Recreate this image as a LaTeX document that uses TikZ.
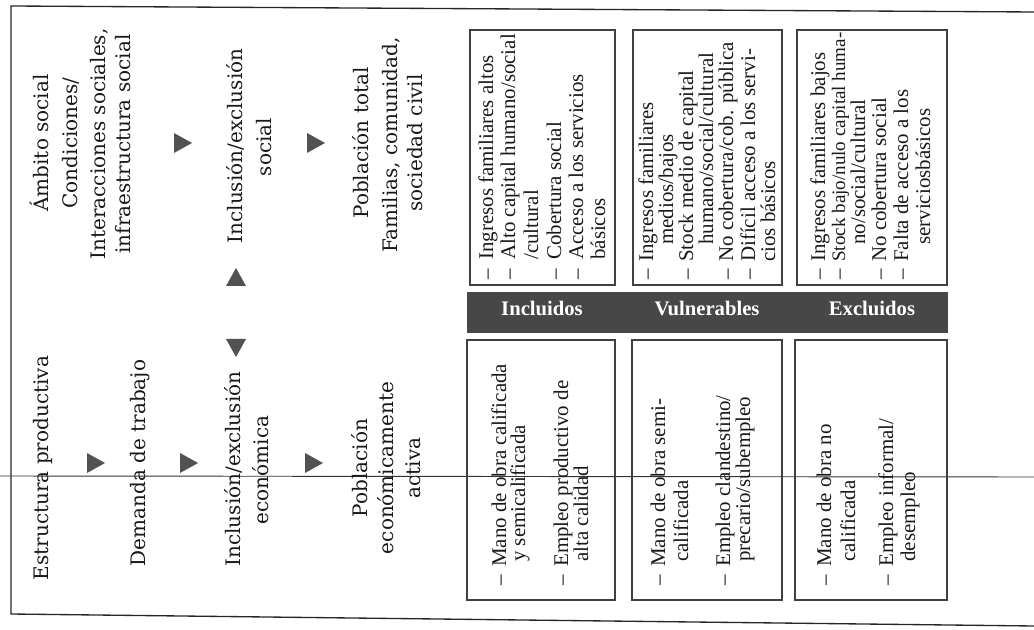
\documentclass[tikz,border=0pt]{standalone}
\usepackage{fontspec}
\setmainfont{Liberation Serif}
\newfontfamily\dvs{DejaVu Serif}
\begin{document}
\begin{tikzpicture}[x=0.75pt,y=-0.75pt,
  lab/.style={rotate=90,anchor=mid,inner sep=0pt,font=\dvs\fontsize{15}{17}\selectfont,text=black!90},
  itm/.style={rotate=90,anchor=mid west,inner sep=0pt,font=\fontsize{15.7}{17}\selectfont,text=black!90},
  dsh/.style={rotate=90,anchor=mid,inner sep=0pt,font=\fontsize{15.7}{17}\selectfont,text=black!90},
  box/.style={draw=black!75,line width=0.8pt},
  band/.style={fill=black!72},
  bandtxt/.style={anchor=mid,inner sep=0pt,text=white,font=\bfseries\fontsize{15.5}{18}\selectfont},
  tri/.style={fill=black!68},
  frame/.style={draw=black!85,line width=1pt}]
\useasboundingbox (0,0) rectangle (1034,630);
% frame
\draw[frame] (1034,12) -- (11,6) -- (11,614) -- (1034,626);
\draw[black!80,line width=0.7pt] (0,476) -- (1034,477);

% left column: social (upper)
\node[lab] (as) at (45,143) {Ámbito social};
\node[lab] (co) at (74,143) {Condiciones/};
\node[lab] (is) at (102,144) {Interacciones sociales,};
\node[lab] (if) at (127,144) {infraestructura social};
\node[lab] (ies1) at (239,146) {Inclusión/exclusión};
\node[lab] (ies2) at (268,147) {social};
\node[lab] (pt) at (365,143) {Población total};
\node[lab] (fc) at (394,145) {Familias, comunidad,};
\node[lab] (sc) at (419,143) {sociedad civil};
% left column: economic (lower)
\node[lab] (ep) at (45,468) {Estructura productiva};
\node[lab] (dt) at (142,463) {Demanda de trabajo};
\node[lab] (iee1) at (237,469) {Inclusión/exclusión};
\node[lab] (iee2) at (265,470) {económica};
\node[lab] (pe1) at (364,468) {Población};
\node[lab] (pe2) at (390,468) {económicamente};
\node[lab] (pe3) at (417,468) {activa};

% triangles
\fill[tri] (174,133) -- (174,153) -- (192,143) -- cycle;
\fill[tri] (307,133) -- (307,153) -- (325,143) -- cycle;
\fill[tri] (87,453) -- (87,473) -- (105,463) -- cycle;
\fill[tri] (180,453) -- (180,473) -- (198,463) -- cycle;
\fill[tri] (305,453) -- (305,473) -- (323,463) -- cycle;
\fill[tri] (226,286) -- (246,286) -- (236,268) -- cycle;
\fill[tri] (226,339) -- (246,339) -- (236,357) -- cycle;

% upper boxes
\draw[box] (470,30) rectangle (615,285);
\draw[box] (633,30) rectangle (782,285);
\draw[box] (797,30) rectangle (947,285);
% band
\fill[band] (467,292) rectangle (948,333);
\node[bandtxt] (inc) at (542,312) {Incluidos};
\node[bandtxt] (vul) at (707,312) {Vulnerables};
\node[bandtxt] (exc) at (872,312) {Excluidos};
% lower boxes
\draw[box] (467,340) rectangle (615,600);
\draw[box] (632,340) rectangle (782,600);
\draw[box] (795,340) rectangle (947,600);

% box 1 upper
\node[dsh] (d11) at (490,274) {–};
\node[itm] (t11) at (490,260) {Ingresos familiares altos};
\node[dsh] (d12) at (512,274) {–};
\node[itm] (t12) at (512,260) {Alto capital humano/social};
\node[itm] (t13) at (535,260) {/cultural};
\node[dsh] (d14) at (558,274) {–};
\node[itm] (t14) at (558,260) {Cobertura social};
\node[dsh] (d15) at (580,274) {–};
\node[itm] (t15) at (580,260) {Acceso a los servicios};
\node[itm] (t16) at (602,260) {básicos};
% box 2 upper
\node[dsh] (d21) at (650,274) {–};
\node[itm] (t21) at (650,262) {Ingresos familiares};
\node[itm] (t22) at (670,245) {medios/bajos};
\node[dsh] (d23) at (690,274) {–};
\node[itm] (t23) at (690,262) {Stock medio de capital};
\node[itm] (t24) at (710,245) {humano/social/cultural};
\node[dsh] (d25) at (730,274) {–};
\node[itm] (t25) at (730,262) {No cobertura/cob. pública};
\node[dsh] (d26) at (752,274) {–};
\node[itm] (t26) at (752,262) {Difícil acceso a los servi-};
\node[itm] (t27) at (772,262) {cios básicos};
% box 3 upper
\node[dsh] (d31) at (822,274) {–};
\node[itm] (t31) at (822,262) {Ingresos familiares bajos};
\node[dsh] (d32) at (842,274) {–};
\node[itm,font=\fontsize{14.3}{17}\selectfont] (t32) at (842,262) {Stock bajo/nulo capital huma-};
\node[itm] (t33) at (862,245) {no/social/cultural};
\node[dsh] (d34) at (883,274) {–};
\node[itm] (t34) at (883,262) {No cobertura social};
\node[dsh] (d35) at (905,274) {–};
\node[itm] (t35) at (905,262) {Falta de acceso a los};
\node[itm] (t36) at (927,245) {serviciosbásicos};

% box 1 lower
\node[dsh] (e11) at (503,580) {–};
\node[itm] (u11) at (503,567) {Mano de obra calificada};
\node[itm] (u12) at (522,562) {y semicalificada};
\node[dsh] (e13) at (565,580) {–};
\node[itm] (u13) at (565,567) {Empleo productivo de};
\node[itm] (u14) at (585,562) {alta calidad};
% box 2 lower
\node[dsh] (e21) at (662,580) {–};
\node[itm] (u21) at (662,567) {Mano de obra semi-};
\node[itm] (u22) at (685,562) {calificada};
\node[dsh] (e23) at (727,580) {–};
\node[itm] (u23) at (727,567) {Empleo clandestino/};
\node[itm] (u24) at (747,562) {precario/subempleo};
% box 3 lower
\node[dsh] (e31) at (828,580) {–};
\node[itm] (u31) at (828,567) {Mano de obra no};
\node[itm] (u32) at (852,562) {calificada};
\node[dsh] (e33) at (890,580) {–};
\node[itm] (u33) at (890,567) {Empleo informal/};
\node[itm] (u34) at (912,562) {desempleo};
\end{tikzpicture}
\end{document}
